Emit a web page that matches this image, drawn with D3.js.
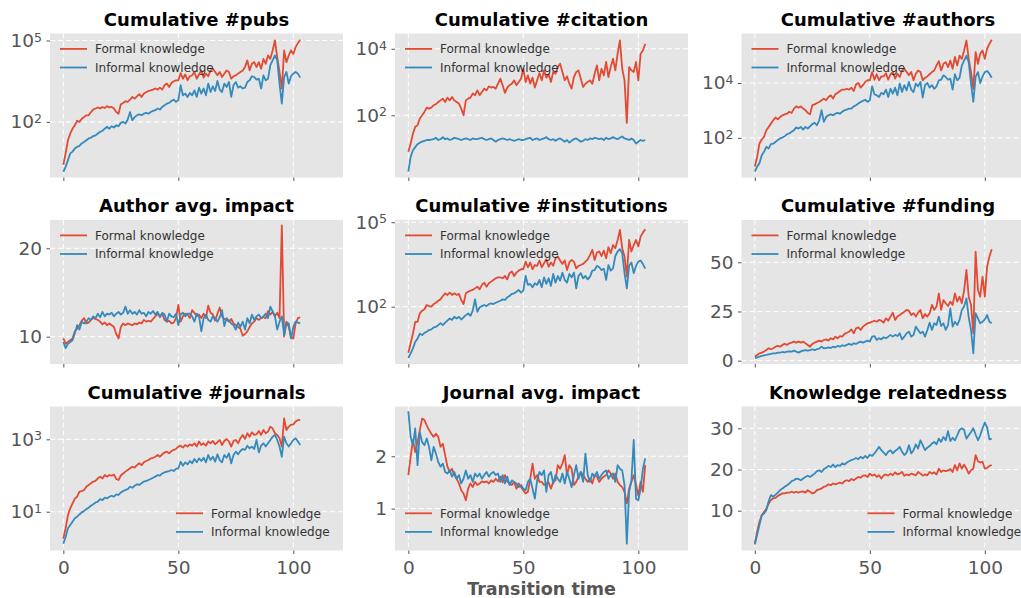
<!DOCTYPE html>
<html>
<head>
<meta charset="utf-8">
<script src="https://cdn.jsdelivr.net/npm/d3@7"></script>
<style>
  body { margin: 0; background: #fff; }
  svg { display: block; }
</style>
</head>
<body>
<svg id="chart" width="1021" height="598"></svg>
<script>
// ---- data: one value per transition-time step (0..103) ----
const seriesNames = ["Formal knowledge", "Informal knowledge"];
const xTickValues = [0, 50, 100];
const xLabel = "Transition time";

const pubsFormal = [2.6, 6.9, 21, 37, 56, 75, 110, 100, 130, 150,
  175, 175, 230, 285, 310, 340, 310, 355, 325, 380,
  340, 355, 310, 230, 200, 445, 500, 575, 550, 660,
  830, 720, 875, 1050, 830, 1100, 1230, 1380, 1450, 1550,
  1700, 1550, 1830, 1550, 2240, 2580, 1940, 2700, 3150, 3410,
  3410, 6300, 3900, 5600, 3410, 4800, 5200, 6900, 3900, 5600,
  7900, 4270, 6000, 4800, 7900, 9100, 6900, 5200, 6900, 4500,
  6000, 7900, 6900, 3900, 4800, 5200, 6000, 6900, 7900, 10500,
  18500, 7900, 13800, 16000, 10500, 16000, 9100, 21000, 13800, 28000,
  21000, 43000, 100000, 24500, 6900, 1700, 43000, 16000, 28000, 43000,
  32000, 57000, 80000, 107000];
const pubsInformal = [1.45, 2.2, 3.9, 6.9, 8, 10.5, 12, 13, 16, 18,
  21, 24.5, 26, 30, 32, 37, 43, 47, 56, 66,
  56, 69, 62, 75, 69, 92, 100, 87, 122, 230,
  115, 150, 175, 190, 175, 200, 215, 200, 230, 255,
  270, 310, 285, 355, 410, 470, 500, 590, 665, 545,
  630, 2240, 955, 1100, 830, 1170, 955, 1450, 830, 1830,
  1100, 1700, 955, 2580, 1260, 2050, 1380, 3240, 1550, 1260,
  2580, 1940, 2950, 830, 2240, 2950, 1830, 2050, 1700, 1830,
  2950, 3410, 4800, 4500, 3600, 3900, 1700, 5200, 3410, 3900,
  12000, 18500, 28000, 18500, 2580, 470, 4500, 6900, 2580, 4800,
  6000, 6900, 6000, 4270];

const citationFormal = [8, 14, 28, 45, 50, 80, 100, 126, 170, 158,
  170, 200, 215, 250, 280, 316, 250, 340, 280, 355,
  280, 250, 225, 158, 100, 280, 316, 340, 450, 400,
  560, 400, 500, 630, 560, 740, 680, 710, 630, 890,
  1260, 800, 470, 680, 800, 890, 1120, 800, 1000, 1260,
  2500, 1000, 1580, 890, 1350, 680, 1120, 1860, 1120, 2240,
  1350, 1700, 1000, 2000, 1780, 2820, 3550, 2000, 1120, 1480,
  890, 630, 1410, 2000, 2240, 1260, 710, 890, 1000, 1120,
  890, 1780, 3160, 1120, 2500, 1580, 4000, 1410, 2820, 5000,
  2240, 7100, 17800, 2500, 1120, 59, 2820, 2240, 2000, 4000,
  1120, 7100, 8900, 14100];
const citationInformal = [2.0, 5.6, 8.9, 11, 13.5, 15, 16, 17, 18, 18,
  18.6, 19, 21, 18, 19, 22, 19, 20, 18, 19,
  21, 20, 19, 18, 19, 20, 19, 18, 20, 19,
  19, 20, 21, 19, 18, 19, 20, 18, 16, 18,
  19, 20, 19, 18, 19, 18, 17, 18, 19, 18,
  18, 19, 20, 21, 18, 19, 20, 18, 19, 20,
  22, 19, 18, 19, 17, 19, 20, 18, 16, 18,
  15, 17, 19, 20, 18, 16, 17, 19, 18, 20,
  19, 21, 20, 19, 20, 18, 21, 19, 20, 22,
  20, 19, 21, 23, 20, 19, 18, 20, 18, 14,
  16, 18, 17, 18];

const authorsFormal = [9, 20, 62, 87, 110, 190, 250, 330, 440, 550,
  470, 580, 660, 720, 760, 890, 810, 1170, 1410, 1260,
  1410, 1170, 1020, 810, 720, 1550, 1660, 1860, 2040, 2340,
  2700, 2340, 3090, 3550, 2700, 3890, 4370, 5130, 5750, 5750,
  6170, 5750, 6760, 5130, 8910, 10000, 6760, 8300, 11000, 12600,
  12600, 25100, 13200, 20900, 12600, 17400, 17400, 22900, 13200, 20900,
  25100, 14500, 21900, 16600, 28800, 33100, 25100, 19100, 25100, 12600,
  21900, 28800, 25100, 12600, 15500, 17400, 20900, 25100, 28800, 43700,
  63100, 28800, 50100, 57500, 38000, 66100, 33100, 89100, 43700, 100000,
  75900, 155000, 355000, 75900, 25100, 6170, 135000, 50100, 117000, 155000,
  75900, 178000, 269000, 380000];
const authorsInformal = [5.8, 8.9, 11.7, 23, 31, 47, 41, 59, 62, 71,
  83, 95, 102, 115, 135, 145, 166, 190, 240, 219,
  251, 200, 251, 219, 263, 316, 355, 288, 437, 1020,
  380, 575, 661, 724, 661, 759, 813, 759, 891, 1020,
  1070, 1170, 1170, 1410, 1550, 1780, 2040, 2240, 2450, 2040,
  2340, 7590, 3890, 3550, 3090, 4370, 3890, 5750, 3090, 6170,
  4070, 6760, 3550, 9550, 4680, 8320, 5370, 11000, 5750, 4680,
  9550, 7590, 11000, 2950, 8320, 10000, 6760, 8320, 6170, 7590,
  12600, 13200, 19100, 16600, 13200, 14500, 5750, 20900, 12600, 15500,
  43700, 66100, 100000, 57500, 9550, 2040, 16600, 25100, 10000, 17400,
  25100, 27500, 21900, 15500];

const authorImpactFormal = [9.8, 9.2, 9.4, 9.6, 9.8, 10.6, 10.9, 11.3, 11.8, 12.1,
  11.5, 11.6, 11.9, 12.1, 12.0, 11.9, 11.7, 11.4, 11.6, 11.3,
  11.5, 11.3, 11.1, 10.3, 9.8, 11.1, 11.5, 11.3, 11.5, 11.4,
  11.3, 11.5, 11.4, 11.6, 11.5, 11.9, 11.7, 11.8, 11.7, 12.0,
  12.3, 12.6, 12.3, 12.6, 11.9, 11.7, 11.8, 11.5, 11.6, 12.1,
  13.6, 11.7, 12.3, 12.6, 12.5, 12.1, 13.0, 12.7, 12.3, 12.5,
  12.1, 12.6, 12.1, 13.5, 12.7, 12.5, 11.8, 12.6, 13.3, 12.3,
  12.0, 11.9, 11.7, 12.0, 11.5, 11.3, 11.1, 10.9, 10.1, 10.3,
  10.6, 11.1, 11.5, 11.7, 12.1, 11.9, 12.1, 12.2, 12.1, 12.9,
  12.5, 12.8, 12.3, 12.7, 12.1, 22.6, 10.0, 11.7, 11.1, 10.0,
  9.8, 11.5, 12.1, 12.2];
const authorImpactInformal = [9.4, 8.7, 9.2, 9.4, 9.6, 10.4, 11.3, 10.8, 11.7, 11.5,
  11.7, 12.1, 11.9, 12.3, 12.1, 12.6, 12.2, 12.8, 12.3, 12.6,
  12.5, 12.7, 12.3, 12.6, 12.8, 12.5, 12.7, 13.4, 12.6, 13.0,
  12.6, 12.8, 12.5, 13.0, 12.6, 12.7, 12.3, 12.8, 12.6, 12.9,
  12.5, 12.8, 12.2, 12.7, 12.5, 11.7, 12.6, 12.3, 12.2, 12.6,
  11.3, 12.5, 12.7, 12.3, 12.6, 12.6, 12.3, 11.7, 12.6, 12.3,
  10.6, 12.1, 12.5, 11.9, 11.7, 12.3, 12.1, 11.7, 12.2, 13.0,
  11.2, 12.1, 11.8, 11.5, 11.3, 10.8, 11.6, 11.1, 11.7, 10.8,
  12.1, 11.5, 12.5, 11.9, 12.3, 12.5, 12.1, 12.3, 12.6, 12.1,
  13.4, 12.9, 12.3, 10.8, 11.7, 12.3, 10.2, 11.6, 11.5, 9.8,
  11.1, 11.7, 11.6, 11.5];

const institutionsFormal = [2.3, 5.0, 11, 29, 29, 58, 72, 81, 115, 105,
  100, 124, 138, 163, 182, 240, 298, 261, 316, 261,
  298, 261, 284, 173, 124, 298, 340, 370, 392, 447,
  513, 414, 594, 712, 513, 680, 776, 891, 1020, 1100,
  1100, 1020, 1230, 933, 1550, 1780, 1230, 1620, 1910, 2140,
  2140, 3980, 2510, 3720, 2140, 3020, 2820, 4370, 2510, 3470,
  4790, 2630, 3720, 2820, 5250, 6030, 4370, 3310, 4370, 2000,
  3720, 4570, 3980, 2290, 2820, 3020, 3310, 3980, 4790, 6920,
  10500, 4570, 8320, 9120, 6310, 9770, 5250, 12900, 7940, 15500,
  12000, 23400, 53700, 12000, 6030, 1170, 23400, 9120, 15500, 23400,
  13800, 30900, 42700, 56200];
const institutionsInformal = [1.5, 2.2, 3.3, 5.6, 7.4, 11, 9.8, 11.7, 12.9, 14.8,
  15.6, 18.3, 19.3, 22, 26, 22, 27, 32, 38, 34,
  44, 38, 44, 35, 42, 50, 58, 47, 72, 182,
  66, 95, 105, 115, 105, 124, 131, 124, 138, 150,
  163, 182, 173, 215, 240, 284, 298, 341, 392, 316,
  370, 1230, 594, 643, 491, 680, 594, 891, 491, 1100,
  643, 1020, 548, 1450, 712, 1230, 845, 1620, 891, 712,
  1450, 1100, 1620, 447, 1230, 1550, 1020, 1230, 933, 1170,
  1910, 2000, 2820, 2510, 2000, 2240, 891, 3020, 1910, 2290,
  6310, 9120, 11000, 7940, 1550, 447, 2820, 3720, 1550, 2820,
  3980, 4370, 3310, 2240];

const fundingFormal = [2.0, 2.9, 3.7, 4.1, 4.6, 5.4, 6.3, 5.8, 6.3, 7.1,
  7.5, 7.1, 8.0, 8.5, 8.0, 8.8, 9.2, 9.7, 9.2, 9.7,
  9.2, 9.7, 8.8, 8.0, 7.1, 8.5, 9.2, 9.7, 10.2, 9.7,
  10.5, 10.8, 10.2, 11.4, 10.8, 12.2, 11.4, 12.5, 12.2, 13.6,
  14.2, 14.7, 15.9, 13.9, 16.4, 16.9, 15.6, 17.3, 18.1, 19.0,
  19.3, 19.8, 20.3, 19.8, 20.7, 20.3, 19.3, 21.5, 20.3, 22.4,
  24.4, 20.7, 22.4, 23.2, 24.1, 24.9, 25.8, 25.4, 23.2, 24.1,
  22.4, 24.4, 25.8, 21.5, 23.7, 22.4, 24.1, 28.3, 25.8, 27.5,
  34.2, 25.8, 30.8, 29.2, 27.8, 30.0, 28.3, 34.2, 30.0, 32.5,
  29.2, 35.9, 46.1, 32.5, 28.3, 13.9, 55.4, 35.9, 32.5, 42.7,
  32.5, 47.8, 52.9, 56.6];
const fundingInformal = [1.2, 1.7, 2.0, 2.4, 2.7, 2.9, 3.2, 3.4, 3.7, 3.7,
  4.1, 4.1, 4.4, 4.2, 4.6, 4.7, 4.6, 5.1, 4.6, 4.1,
  4.7, 5.1, 5.4, 5.1, 5.4, 5.8, 5.4, 5.8, 6.1, 7.1,
  6.3, 6.4, 6.8, 6.4, 7.1, 6.8, 7.5, 7.1, 7.8, 7.5,
  8.0, 8.5, 8.0, 8.8, 8.5, 9.2, 9.7, 9.2, 9.7, 10.2,
  9.7, 12.2, 12.5, 10.5, 11.4, 10.8, 11.9, 11.4, 12.2, 13.1,
  12.2, 13.1, 12.5, 13.9, 10.8, 12.2, 13.9, 14.7, 12.2, 13.1,
  17.3, 15.6, 13.9, 14.7, 12.2, 15.6, 19.3, 15.6, 19.0, 18.1,
  22.4, 17.6, 19.0, 15.6, 18.1, 26.6, 17.3, 19.8, 18.1, 20.7,
  25.8, 27.5, 31.7, 22.0, 15.6, 3.7, 24.1, 21.5, 19.0, 19.8,
  21.0, 23.2, 19.8, 19.0];

const journalsFormal = [1.8, 3.5, 8.1, 12.4, 17, 23, 26, 36, 37, 40,
  49, 55, 61, 68, 71, 83, 93, 83, 103, 93,
  103, 99, 107, 80, 75, 100, 114, 128, 142, 158,
  175, 165, 194, 218, 194, 231, 252, 268, 297, 309,
  330, 368, 330, 385, 434, 455, 410, 475, 510, 540,
  630, 665, 590, 695, 630, 725, 665, 775, 630, 870,
  695, 775, 665, 870, 775, 900, 725, 830, 960, 695,
  900, 1020, 870, 630, 900, 960, 775, 1070, 1320, 1020,
  1470, 1180, 1550, 1320, 1380, 1700, 1320, 1810, 1470, 1630,
  2240, 2000, 1470, 1320, 1070, 630, 3800, 1810, 2240, 2510,
  2590, 3090, 3390, 3390];
const journalsInformal = [1.3, 2.0, 3.5, 4.3, 5.3, 6.6, 7.3, 8.4, 9.6, 10.4,
  11.8, 12.9, 14.7, 16, 18, 19, 22.4, 21, 24.4, 23.4,
  26, 27.7, 26, 30, 29, 34, 37, 40, 42, 49,
  46, 52, 57, 55, 61, 68, 71, 75, 80, 87,
  93, 103, 99, 114, 122, 128, 133, 142, 133, 152,
  158, 240, 187, 231, 203, 252, 218, 285, 231, 297,
  252, 309, 231, 368, 268, 330, 240, 385, 268, 231,
  368, 309, 410, 218, 368, 455, 385, 475, 540, 510,
  665, 560, 630, 540, 960, 434, 665, 775, 630, 775,
  960, 1180, 1320, 960, 630, 330, 1180, 775, 630, 775,
  960, 1070, 870, 695];

const journalImpactFormal = [1.64, 1.99, 2.31, 2.08, 2.27, 2.50, 2.72, 2.69, 2.59, 2.50,
  2.43, 2.37, 2.43, 2.37, 2.18, 2.24, 2.02, 1.80, 1.70, 1.76,
  1.64, 1.57, 1.48, 1.35, 1.29, 1.16, 1.38, 1.48, 1.41, 1.51,
  1.45, 1.48, 1.52, 1.50, 1.52, 1.48, 1.54, 1.51, 1.57, 1.52,
  1.61, 1.50, 1.64, 1.52, 1.48, 1.45, 1.51, 1.38, 1.48, 1.41,
  1.35, 1.29, 1.32, 1.57, 1.86, 1.57, 1.64, 1.51, 1.51, 1.45,
  1.48, 1.50, 1.38, 1.51, 1.54, 1.83, 1.76, 1.86, 2.02, 1.64,
  1.83, 1.76, 1.45, 1.51, 1.61, 1.70, 1.64, 1.57, 1.51, 1.57,
  1.48, 1.64, 1.61, 1.51, 1.57, 1.61, 1.64, 1.73, 1.67, 1.57,
  1.67, 1.51, 1.45, 1.41, 1.32, 1.10, 1.38, 1.51, 1.64, 1.45,
  1.25, 1.51, 1.32, 1.83];
const journalImpactInformal = [2.86, 2.37, 2.21, 2.53, 1.83, 2.46, 2.27, 2.21, 2.34, 2.18,
  1.92, 2.18, 2.05, 1.89, 1.80, 1.86, 1.70, 1.67, 1.73, 1.61,
  1.70, 1.57, 1.64, 1.48, 1.57, 1.73, 1.57, 1.64, 1.51, 1.67,
  1.61, 1.67, 1.57, 1.64, 1.70, 1.61, 1.67, 1.70, 1.64, 1.67,
  1.51, 1.64, 1.48, 1.61, 1.45, 1.54, 1.51, 1.48, 1.41, 1.45,
  1.38, 1.35, 1.51, 1.57, 1.38, 1.19, 1.54, 1.70, 1.64, 1.73,
  1.32, 1.64, 1.70, 1.48, 1.64, 1.57, 1.51, 1.67, 1.48, 1.70,
  1.57, 1.41, 1.64, 1.83, 1.57, 1.70, 1.51, 2.05, 1.64, 1.51,
  1.67, 1.61, 1.70, 1.57, 1.64, 1.70, 1.73, 1.57, 1.64, 1.67,
  1.51, 1.83, 1.76, 1.73, 1.45, 0.33, 1.32, 1.54, 2.31, 1.19,
  1.16, 1.38, 1.76, 1.96];

const relatednessFormal = [2.0, 4.9, 7.3, 8.9, 9.7, 10.5, 11.7, 12.6, 13.0, 13.1,
  13.6, 13.9, 14.2, 14.2, 14.4, 14.4, 14.6, 14.4, 14.6, 14.4,
  14.6, 14.7, 14.4, 15.0, 14.6, 14.2, 14.4, 15.0, 15.2, 15.4,
  15.8, 16.0, 16.4, 16.2, 16.6, 16.4, 16.6, 16.8, 16.6, 17.2,
  17.4, 17.2, 17.7, 17.4, 17.8, 18.2, 18.0, 18.5, 18.6, 18.2,
  19.0, 18.5, 18.8, 18.2, 18.6, 17.8, 18.6, 18.8, 18.5, 19.0,
  18.6, 19.3, 18.8, 19.0, 19.4, 18.5, 18.8, 18.6, 19.0, 18.8,
  18.6, 19.4, 19.0, 18.5, 18.8, 18.6, 19.4, 19.0, 19.3, 18.8,
  20.2, 19.4, 19.8, 19.6, 19.8, 20.1, 19.4, 21.1, 19.8, 21.5,
  20.2, 21.2, 20.2, 19.0, 19.8, 20.2, 23.5, 22.0, 21.7, 21.9,
  20.2, 20.4, 20.9, 21.1];
const relatednessInformal = [1.8, 4.2, 6.5, 8.9, 9.3, 10.1, 12.3, 13.8, 13.4, 13.9,
  14.4, 15.0, 15.4, 15.8, 16.2, 16.6, 17.2, 17.4, 17.8, 17.7,
  17.4, 17.8, 18.2, 18.5, 18.2, 18.6, 19.0, 19.6, 19.8, 19.4,
  20.1, 20.4, 20.9, 20.6, 21.2, 20.6, 21.1, 20.9, 21.5, 21.2,
  21.7, 22.0, 22.3, 22.5, 22.8, 22.5, 23.1, 22.7, 23.3, 22.8,
  23.6, 23.3, 23.9, 24.7, 25.5, 24.7, 24.1, 23.5, 24.3, 24.7,
  23.9, 24.5, 24.9, 25.5, 24.3, 23.5, 24.1, 25.9, 23.9, 24.7,
  26.1, 25.1, 27.1, 25.9, 24.7, 25.3, 25.7, 26.3, 26.7, 26.1,
  27.5, 26.7, 27.9, 27.1, 29.3, 26.9, 27.7, 27.1, 28.3, 29.6,
  30.0, 29.6, 27.5, 28.3, 29.1, 30.0, 28.5, 27.1, 28.3, 30.0,
  31.4, 30.2, 27.3, 27.5];

// y tick values per panel
const pubsTicks = [1e2, 1e5];
const citationTicks = [1e2, 1e4];
const authorsTicks = [1e2, 1e4];
const authorImpactTicks = [10, 20];
const institutionsTicks = [1e2, 1e5];
const fundingTicks = [0, 25, 50];
const journalsTicks = [1e1, 1e3];
const journalImpactTicks = [1, 2];
const relatednessTicks = [10, 20, 30];

// ---- panel table ----
const panels = [
  { title: "Cumulative #pubs", series: [pubsFormal, pubsInformal], log: true, yDomain: [0.89, 181000], ticks: pubsTicks, legend: "tl" },
  { title: "Cumulative #citation", series: [citationFormal, citationInformal], log: true, yDomain: [1.34, 28800], ticks: citationTicks, legend: "tl" },
  { title: "Cumulative #authors", series: [authorsFormal, authorsInformal], log: true, yDomain: [3.57, 641000], ticks: authorsTicks, legend: "tl" },
  { title: "Author avg. impact", series: [authorImpactFormal, authorImpactInformal], log: false, yDomain: [6.91, 23.2], ticks: authorImpactTicks, legend: "tl" },
  { title: "Cumulative #institutions", series: [institutionsFormal, institutionsInformal], log: true, yDomain: [0.92, 120000], ticks: institutionsTicks, legend: "tl" },
  { title: "Cumulative #funding", series: [fundingFormal, fundingInformal], log: false, yDomain: [-1.7, 71.5], ticks: fundingTicks, legend: "tl" },
  { title: "Cumulative #journals", series: [journalsFormal, journalsInformal], log: true, yDomain: [0.85, 8050], ticks: journalsTicks, legend: "br" },
  { title: "Journal avg. impact", series: [journalImpactFormal, journalImpactInformal], log: false, yDomain: [0.2, 2.95], ticks: journalImpactTicks, legend: "bl" },
  { title: "Knowledge relatedness", series: [relatednessFormal, relatednessInformal], log: false, yDomain: [0.34, 35.3], ticks: relatednessTicks, legend: "br" }
];

// ---- layout & style ----
const colors = ["#E24A33", "#348ABD"];
const colLeft = [50, 395, 741.5];
const rowTop = [33.5, 220, 406.5];
const W = 293, H = 144;
const FONT = "'DejaVu Sans', Verdana, sans-serif";
const TICK_FONT = 18.5;

const svg = d3.select("#chart");
const x = d3.scaleLinear().domain([-5.8, 121.6]).range([0, W]);

panels.forEach((p, k) => {
  const col = k % 3, row = Math.floor(k / 3);
  const g = svg.append("g").attr("transform", `translate(${colLeft[col]},${rowTop[row]})`);
  const y = (p.log ? d3.scaleLog() : d3.scaleLinear()).domain(p.yDomain).range([H, 0]);

  g.append("rect").attr("width", W).attr("height", H).attr("fill", "#E5E5E5");

  // dashed white grid
  g.selectAll(".gx").data(xTickValues).join("line")
    .attr("x1", d => x(d)).attr("x2", d => x(d)).attr("y1", 0).attr("y2", H)
    .attr("stroke", "#fff").attr("stroke-width", 1).attr("stroke-dasharray", "5,3");
  g.selectAll(".gy").data(p.ticks).join("line")
    .attr("x1", 0).attr("x2", W).attr("y1", d => y(d)).attr("y2", d => y(d))
    .attr("stroke", "#fff").attr("stroke-width", 1).attr("stroke-dasharray", "5,3");

  // series lines
  const line = d3.line().x((d, i) => x(i)).y(d => y(d));
  p.series.forEach((s, j) => {
    g.append("path").datum(s).attr("d", line)
      .attr("fill", "none").attr("stroke", colors[j])
      .attr("stroke-width", 1.8).attr("stroke-linejoin", "round");
  });

  // y axis
  const yAxis = d3.axisLeft(y).tickValues(p.ticks).tickSize(3.5).tickPadding(4.5)
    .tickFormat(p.log ? () => "" : d3.format("d"));
  const ya = g.append("g").call(yAxis);
  ya.select(".domain").remove();
  ya.selectAll(".tick line").attr("stroke", "#555");
  ya.selectAll(".tick text").attr("fill", "#555").attr("font-family", FONT).attr("font-size", TICK_FONT);
  if (p.log) {
    ya.selectAll(".tick text").each(function (d) {
      const t = d3.select(this);
      t.append("tspan").text("10");
      t.append("tspan").attr("dy", "-0.42em").attr("font-size", "0.68em")
        .text(Math.round(Math.log10(d)));
    });
  }

  // x axis (labels only on the bottom row)
  const xAxis = d3.axisBottom(x).tickValues(xTickValues).tickSize(3.5).tickPadding(6.5)
    .tickFormat(row === 2 ? d3.format("d") : () => "");
  const xa = g.append("g").attr("transform", `translate(0,${H})`).call(xAxis);
  xa.select(".domain").remove();
  xa.selectAll(".tick line").attr("stroke", "#555");
  xa.selectAll(".tick text").attr("fill", "#555").attr("font-family", FONT).attr("font-size", TICK_FONT);

  // title
  g.append("text").attr("x", W / 2).attr("y", -8).attr("text-anchor", "middle")
    .attr("font-family", FONT).attr("font-weight", "bold").attr("font-size", 18)
    .attr("fill", "#000").text(p.title);

  // legend
  let lx, ly;
  if (p.legend === "tl") { lx = 10; ly = 15.4; }
  else if (p.legend === "bl") { lx = 10; ly = H - 37.2; }
  else { lx = 126; ly = H - 37.2; }
  const lg = g.append("g").attr("transform", `translate(${lx},${ly})`);
  seriesNames.forEach((name, j) => {
    const yy = j * 18.6;
    lg.append("line").attr("x1", 0).attr("x2", 27).attr("y1", yy).attr("y2", yy)
      .attr("stroke", colors[j]).attr("stroke-width", 1.8);
    lg.append("text").attr("x", 35).attr("y", yy).attr("dy", "0.35em")
      .attr("font-family", FONT).attr("font-size", 12).attr("fill", "#333").text(name);
  });
});

// shared x-axis label under the middle column
svg.append("text").attr("x", colLeft[1] + W / 2).attr("y", 594.5)
  .attr("text-anchor", "middle").attr("font-family", FONT).attr("font-weight", "bold")
  .attr("font-size", 17.5).attr("fill", "#555").text(xLabel);
</script>
</body>
</html>
